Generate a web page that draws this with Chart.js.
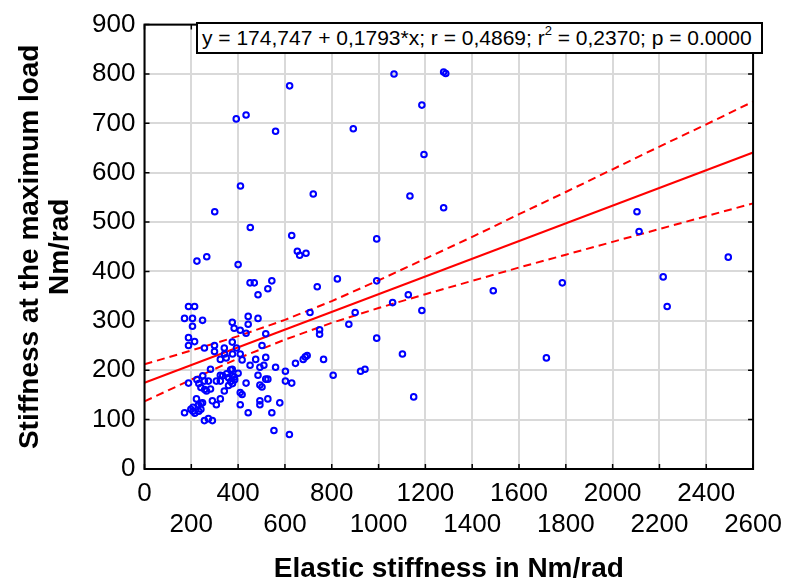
<!DOCTYPE html>
<html>
<head>
<meta charset="utf-8">
<script src="https://cdn.jsdelivr.net/npm/chart.js@4.4.1/dist/chart.umd.min.js"></script>
<style>
body{margin:0;background:#fff;}
#wrap{position:relative;width:791px;height:582px;}
#eq{position:absolute;left:196px;top:22px;width:567px;height:32px;box-sizing:border-box;border:2px solid #000;background:#fff;
 font:21px "Liberation Sans",Arial,sans-serif;line-height:28px;padding-left:4px;white-space:nowrap;color:#000;}
#eq sup{font-size:13px;line-height:0;position:relative;top:-2px;}
</style>
</head>
<body>
<div id="wrap">
<canvas id="mycanvas" width="791" height="582"></canvas>
<div id="eq">y = 174,747 + 0,1793*x; r = 0,4869; r<sup>2</sup> = 0,2370; p = 0.0000</div>
</div>
<script>
// elastic stiffness (x) vs stiffness at max load (y), Nm/rad
var stiffX = [300,392,434,620,560,410,452,721,629,653,663,690,892,992,1066,1185,1194,1134,1278,1278,1287,224,266,400,
	2104,2113,2494,2216,2233,1785,1490,1717,
	451,469,544,527,485,738,824,992,1127,1060,1185,992,1102,1150,707,900,873,748,748,765,695,687,678,645,806,923,942,
	602,602,629,560,578,553,619,544,527,493,493,518,527,493,502,485,493,510,518,475,451,502,518,485,443,443,409,434,
	375,383,375,409,417,434,409,417,409,443,400,383,375,349,341,324,299,299,256,282,324,324,307,341,324,307,290,282,
	265,273,256,248,231,222,273,290,256,171,188,188,188,214,205,171,205,248,188,214,342,376,393,334,351,368,359,376,
	385,376,359,368,249,224,232,241,257,241,198,207,215,232,241,207];
var stiffY = [521,709,717,776,684,573,489,557,473,441,433,437,689,466,800,737,637,553,529,804,801,421,430,414,
	521,481,429,389,329,377,361,225,
	377,377,381,365,353,369,385,381,353,337,321,265,233,146,317,317,293,282,273,222,230,227,222,214,190,198,202,
	198,178,174,206,134,78,70,114,142,138,130,182,182,170,166,190,206,210,226,222,210,250,274,305,309,293,281,275,
	297,285,257,233,221,174,155,151,130,114,194,186,202,225,245,222,250,238,245,202,190,178,178,158,142,130,138,162,
	158,178,178,134,130,142,102,98,98,114,174,266,250,258,289,305,305,301,329,329,233,233,245,189,193,201,185,189,
	181,173,169,177,189,181,173,165,161,133,121,117,113,117,121,125];

// regression line and 95% confidence bands
var fitX = [0, 2600];
var fitY = [174.7, 641];
var bandX = [0,200,400,600,800,1000,1200,1400,1600,1800,2000,2200,2400,2600];
var bandUp = [212,240,269,302,340,382,426,470,516,561,607,653,698,744];
var bandLo = [137,181,224,262,296,326,354,381,408,434,460,486,512,538];

var xTickLabels = ['0','200','400','600','800','1000','1200','1400','1600','1800','2000','2200','2400','2600'];
var yTickLabels = ['0','100','200','300','400','500','600','700','800','900'];

function pts(xs, ys) {
	var out = [];
	for (var i = 0; i < xs.length; i++) out.push({x: xs[i], y: ys[i]});
	return out;
}

var fam = '"Liberation Sans", Arial, sans-serif';

var frameTicks = {
	id: 'frameTicks',
	afterDatasetsDraw: function(chart) {
		var ctx = chart.ctx, a = chart.chartArea, sx = chart.scales.x, sy = chart.scales.y;
		ctx.save();
		ctx.strokeStyle = '#000';
		ctx.lineWidth = 1.5;
		ctx.beginPath();
		xTickLabels.forEach(function(t) {
			var p = sx.getPixelForValue(Number(t));
			ctx.moveTo(p, a.bottom); ctx.lineTo(p, a.bottom - 5);
			ctx.moveTo(p, a.top); ctx.lineTo(p, a.top + 5);
		});
		yTickLabels.forEach(function(t) {
			var p = sy.getPixelForValue(Number(t));
			ctx.moveTo(a.left, p); ctx.lineTo(a.left + 5, p);
			ctx.moveTo(a.right, p); ctx.lineTo(a.right - 5, p);
		});
		ctx.stroke();
		ctx.lineWidth = 2;
		ctx.strokeRect(a.left, a.top, a.right - a.left, a.bottom - a.top);
		ctx.restore();
	}
};

var ctx = document.getElementById('mycanvas');
var chart = new Chart(ctx, {
	type: 'scatter',
	data: {
		datasets: [
			{
				label: 'data',
				data: pts(stiffX, stiffY),
				pointStyle: 'circle',
				pointRadius: 2.8,
				pointBorderWidth: 2,
				borderColor: '#0000ff',
				backgroundColor: 'rgba(0,0,0,0)',
				showLine: false,
				order: 1
			},
			{
				label: 'fit',
				data: pts(fitX, fitY),
				showLine: true,
				borderColor: '#ff0000',
				borderWidth: 2,
				pointRadius: 0,
				order: 2
			},
			{
				label: 'upper',
				data: pts(bandX, bandUp),
				showLine: true,
				borderColor: '#ff0000',
				borderWidth: 2,
				borderDash: [8, 5],
				pointRadius: 0,
				order: 3
			},
			{
				label: 'lower',
				data: pts(bandX, bandLo),
				showLine: true,
				borderColor: '#ff0000',
				borderWidth: 2,
				borderDash: [8, 5],
				pointRadius: 0,
				order: 3
			}
		]
	},
	options: {
		responsive: false,
		animation: false,
		layout: { padding: { top: 20, right: 33, left: 0, bottom: 0 } },
		plugins: { legend: { display: false }, tooltip: { enabled: false } },
		scales: {
			x: {
				type: 'linear',
				min: 0, max: 2600,
				afterFit: function(s) { s.height = 113; },
				border: { display: false },
				grid: { color: '#d9d9d9', lineWidth: 2, drawTicks: false },
				ticks: {
					stepSize: 200, autoSkip: false, maxRotation: 0, padding: 9,
					color: '#000', font: { family: fam, size: 26, lineHeight: 1.2 },
					callback: function(v, i) {
						return i % 2 === 0 ? [xTickLabels[i], ''] : ['', xTickLabels[i]];
					}
				},
				title: {
					display: true, text: 'Elastic stiffness in Nm/rad', color: '#000',
					font: { family: fam, size: 28, weight: 'bold', lineHeight: 1 },
					padding: { top: 0, bottom: -1 }
				}
			},
			y: {
				type: 'linear',
				min: 0, max: 900,
				afterFit: function(s) { s.width = 144.5; },
				border: { display: false },
				grid: { color: '#d9d9d9', lineWidth: 2, drawTicks: false },
				ticks: {
					stepSize: 100, padding: 9, color: '#000',
					font: { family: fam, size: 26 },
					callback: function(v, i) { return yTickLabels[i]; }
				},
				title: {
					display: true, text: ['Stiffness at the maximum load', 'Nm/rad'], color: '#000',
					font: { family: fam, size: 28, weight: 'bold', lineHeight: 1.05 },
					padding: { top: 16, bottom: 0 }
				}
			}
		}
	},
	plugins: [frameTicks]
});
</script>
</body>
</html>
